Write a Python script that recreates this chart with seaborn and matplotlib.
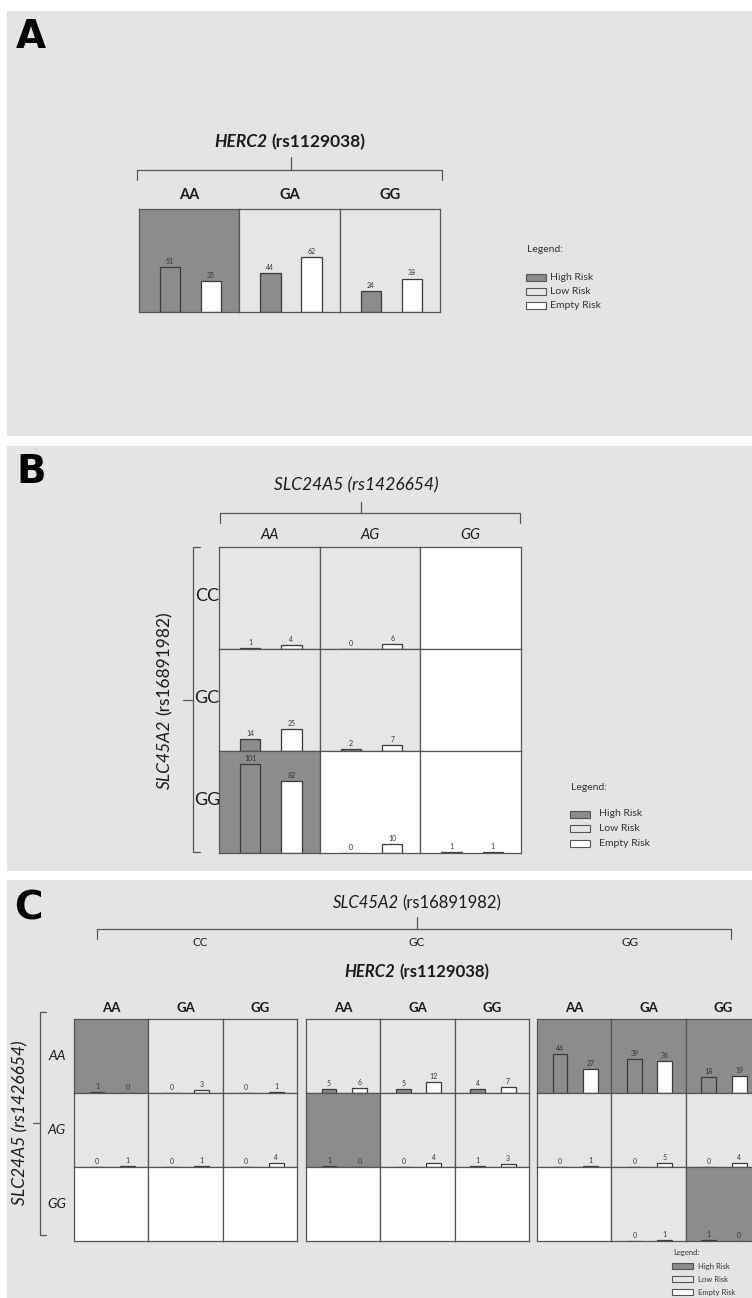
import matplotlib
matplotlib.use("Agg")
import pandas as pd
import matplotlib.pyplot as plt
from matplotlib.patches import Rectangle
import seaborn as sns

W, H = 752, 1298
PX_PER_UNIT = 0.88

RISK_COLORS = {"High": "#8c8c8c", "Low": "#e6e6e6", "Empty": "#ffffff"}
LEGEND_KEYS = ["High", "Low", "Empty"]
LEGEND_LABELS = ["High Risk", "Low Risk", "Empty Risk"]
BAR_GROUPS = ["High", "Empty"]

# Panel A: HERC2 (rs1129038)
A_GENOTYPES = ["AA", "GA", "GG"]
A_HIGH = [51, 44, 24]
A_EMPTY = [35, 62, 38]
A_CELL = ["High", "Low", "Low"]

# Panel B: columns SLC24A5, rows SLC45A2
B_COLS = ["AA", "AG", "GG"]
B_ROWS = ["CC", "GC", "GG"]
B_HIGH = [[1, 0, None], [14, 2, None], [101, 0, 1]]
B_EMPTY = [[4, 6, None], [25, 7, None], [82, 10, 1]]
B_CELL = [["Low", "Low", "Empty"],
          ["Low", "Low", "Empty"],
          ["High", "Empty", "Empty"]]

# Panel C: blocks SLC45A2, columns HERC2, rows SLC24A5
C_BLOCKS = ["CC", "GC", "GG"]
C_COLS = ["AA", "GA", "GG"]
C_ROWS = ["AA", "AG", "GG"]
C_HIGH = [
    [[1, 0, 0], [0, 0, 0], [None, None, None]],
    [[5, 5, 4], [1, 0, 1], [None, None, None]],
    [[44, 39, 18], [0, 0, 0], [None, 0, 1]],
]
C_EMPTY = [
    [[0, 3, 1], [1, 1, 4], [None, None, None]],
    [[6, 12, 7], [0, 4, 3], [None, None, None]],
    [[27, 36, 19], [1, 5, 4], [None, 1, 0]],
]
C_CELL = [
    [["High", "Low", "Low"], ["Low", "Low", "Low"], ["Empty", "Empty", "Empty"]],
    [["Low", "Low", "Low"], ["High", "Low", "Low"], ["Empty", "Empty", "Empty"]],
    [["High", "High", "High"], ["Low", "Low", "Low"], ["Empty", "Low", "High"]],
]

sns.set_style("white")
plt.rcParams["font.family"] = ["Lato", "DejaVu Sans"]

fig = plt.figure(figsize=(W / 100, H / 100), dpi=100, facecolor="white")
bg = fig.add_axes([0, 0, 1, 1])
bg.set_xlim(0, W)
bg.set_ylim(H, 0)
bg.axis("off")

LINE = "#555555"
INK = "#1a1a1a"


def draw_cell(x, y, w, h, risk, high=None, empty=None, label_size=5):
    ax = fig.add_axes([x / W, 1 - (y + h) / H, w / W, h / H])
    ax.set_facecolor(RISK_COLORS[risk])
    if high is not None:
        df = pd.DataFrame({"group": BAR_GROUPS, "count": [high, empty]})
        sns.barplot(data=df, x="group", y="count", hue="group",
                    order=BAR_GROUPS, hue_order=BAR_GROUPS,
                    palette={"High": RISK_COLORS["High"], "Empty": RISK_COLORS["Empty"]},
                    width=0.49, saturation=1, edgecolor="#3a3a3a", linewidth=0.9,
                    legend=False, ax=ax)
        for cont in ax.containers:
            ax.bar_label(cont, fontsize=label_size, padding=1.5, color="#333333")
    ax.set_xlim(-0.756, 1.683)
    ax.set_ylim(0, h / PX_PER_UNIT)
    ax.set_xticks([])
    ax.set_yticks([])
    ax.set_xlabel("")
    ax.set_ylabel("")
    for s in ax.spines.values():
        s.set_visible(True)
        s.set_color(LINE)
        s.set_linewidth(0.9)
    return ax


def mixed_text(x, y, parts, size, rotation=0):
    r = fig.canvas.get_renderer()
    objs = [bg.text(0, 0, s, fontsize=size, style=st, weight=wt,
                    ha="center", va="center", color=INK) for s, st, wt in parts]
    widths = [o.get_window_extent(r).width for o in objs]
    gap = size * 100 / 72 * 0.25
    total = sum(widths) + gap * (len(objs) - 1)
    pos = -total / 2
    for o, wd in zip(objs, widths):
        off = pos + wd / 2
        if rotation == 0:
            o.set_position((x + off, y))
        else:
            o.set_rotation(90)
            o.set_position((x, y - off))
        pos += wd + gap


def hbracket(x0, x1, y, xc, top, drop):
    bg.plot([x0, x0, x1, x1], [y + drop, y, y, y + drop], color=LINE, lw=0.9)
    bg.plot([xc, xc], [top, y], color=LINE, lw=0.9)


def vbracket(x, y0, y1, yc, left, tick):
    bg.plot([x + tick, x, x, x + tick], [y0, y0, y1, y1], color=LINE, lw=0.9)
    bg.plot([left, x], [yc, yc], color=LINE, lw=0.9)


def legend(x, y, size, pw, ph, first, step, text_dx):
    bg.text(x + 1, y, "Legend:", fontsize=size, va="center", ha="left", color="#333333")
    for i, (key, lab) in enumerate(zip(LEGEND_KEYS, LEGEND_LABELS)):
        yy = y + first + step * i
        bg.add_patch(Rectangle((x, yy - ph / 2), pw, ph, facecolor=RISK_COLORS[key],
                               edgecolor=LINE, lw=0.8))
        bg.text(x + text_dx, yy, lab, fontsize=size, va="center", ha="left", color="#333333")


# panel backgrounds
for y0, y1 in [(11, 436), (446, 871), (880, 1300)]:
    bg.add_patch(Rectangle((7, y0), W - 7, y1 - y0, facecolor="#e4e4e4", edgecolor="none"))

for letter, lx, ly in [("A", 16, 18), ("B", 16, 453), ("C", 14, 889)]:
    bg.text(lx, ly, letter, fontsize=28, weight="bold", family="DejaVu Sans",
            ha="left", va="top", color="black")

# ---- Panel A ----
mixed_text(290, 142, [("HERC2", "italic", "bold"), ("(rs1129038)", "normal", "bold")], 12.5)
hbracket(137, 442, 170, 291, 157, 10)
a_x0, a_y0, a_w, a_h = 139, 209, 100.33, 103
for i, g in enumerate(A_GENOTYPES):
    bg.text(a_x0 + a_w * (i + 0.5), 195, g, fontsize=10.5, weight="bold",
            ha="center", va="center", color=INK)
    draw_cell(a_x0 + a_w * i, a_y0, a_w, a_h, A_CELL[i], A_HIGH[i], A_EMPTY[i], 5)
legend(526, 249, 7.5, 20, 7, 28, 14, 24)

# ---- Panel B ----
mixed_text(356, 485, [("SLC24A5 (rs1426654)", "italic", "normal")], 12.5)
hbracket(220, 520, 513, 361, 502, 10)
b_x0, b_y0, b_w, b_h = 219, 547, 100.67, 102
for j, g in enumerate(B_COLS):
    bg.text(b_x0 + b_w * (j + 0.5), 535, g, fontsize=10.5, style="italic",
            ha="center", va="center", color=INK)
for i, g in enumerate(B_ROWS):
    bg.text(207, b_y0 + b_h * (i + 0.5) - 2, g, fontsize=13,
            ha="center", va="center", color=INK)
    for j in range(3):
        draw_cell(b_x0 + b_w * j, b_y0 + b_h * i, b_w, b_h, B_CELL[i][j],
                  B_HIGH[i][j], B_EMPTY[i][j], 5)
vbracket(193, 547, 852, 700, 183, 7)
mixed_text(165, 700, [("SLC45A2", "italic", "normal"), ("(rs16891982)", "normal", "normal")],
           12.5, rotation=90)
legend(570, 787, 7.5, 20, 7, 27, 14.5, 29)

# ---- Panel C ----
mixed_text(417, 903, [("SLC45A2", "italic", "normal"), ("(rs16891982)", "normal", "normal")], 12)
hbracket(97, 731, 929, 417, 917, 10)
for k, g in enumerate(C_BLOCKS):
    bg.text([200, 417, 630][k], 943, g, fontsize=8.5, ha="center", va="center", color=INK)
mixed_text(417, 972, [("HERC2", "italic", "bold"), ("(rs1129038)", "normal", "bold")], 12)
c_xs, c_y0, c_w, c_h = [74, 306, 537], 1019, 74.3, 74
for k in range(3):
    for j, g in enumerate(C_COLS):
        bg.text(c_xs[k] + c_w * (j + 0.5), 1008, g, fontsize=9.5, weight="bold",
                ha="center", va="center", color=INK)
        for i in range(3):
            draw_cell(c_xs[k] + c_w * j, c_y0 + c_h * i, c_w, c_h, C_CELL[k][i][j],
                      C_HIGH[k][i][j], C_EMPTY[k][i][j], 5)
for i, g in enumerate(C_ROWS):
    bg.text(57, c_y0 + c_h * (i + 0.5), g, fontsize=10, style="italic",
            ha="center", va="center", color=INK)
vbracket(40, 1012, 1235, 1123, 33, 6)
mixed_text(20, 1123, [("SLC24A5 (rs1426654)", "italic", "normal")], 12.5, rotation=90)
legend(672, 1252, 5.5, 21, 6, 14, 13, 26)

fig.savefig("out.png", dpi=100, facecolor="white")
